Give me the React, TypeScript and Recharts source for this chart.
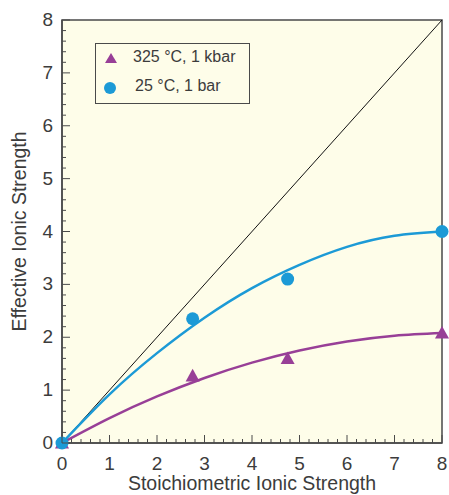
import React from 'react'
import {
  ComposedChart, Line, Scatter, XAxis, YAxis, CartesianGrid,
  ReferenceLine, ReferenceArea,
} from 'recharts'

// fitted curves, read at whole-number stoichiometric ionic strength
const curveX = [0, 1, 2, 3, 4, 5, 6, 7, 8]
const curve25 = [0, 0.92, 1.7, 2.37, 2.93, 3.37, 3.71, 3.92, 4.0]
const curve325 = [0, 0.47, 0.88, 1.23, 1.52, 1.75, 1.92, 2.03, 2.08]

// measured points
const pointsX = [0, 2.75, 4.75, 8]
const points25 = [0, 2.35, 3.1, 4.0]
const points325 = [0, 1.27, 1.6, 2.08]

const majorTicks = [0, 1, 2, 3, 4, 5, 6, 7, 8]
const minorPerUnit = 5

const BLUE = '#1c9ad6'
const PURPLE = '#983f97'
const FRAME = '#4a4a4a'
const TEXT = '#3c3c3c'
const FONT = '"Liberation Sans", Arial, sans-serif'

const curveData = curveX.map((x, i) => ({ x, c25: curve25[i], c325: curve325[i] }))
const data25 = pointsX.map((x, i) => ({ x, y: points25[i] }))
const data325 = pointsX.map((x, i) => ({ x, y: points325[i] }))

const allTicks: number[] = []
for (let i = 0; i <= majorTicks[majorTicks.length - 1] * minorPerUnit; i++) allTicks.push(i / minorPerUnit)

const isMajor = (v: number) => majorTicks.includes(v)

const XTick = (props: any) => {
  const { x, y, payload } = props
  const major = isMajor(payload.value)
  return (
    <g>
      <line x1={x} x2={x} y1={y} y2={y - (major ? 8 : 4)} stroke={FRAME} strokeWidth={1} />
      {major && (
        <text x={x} y={y + 27} textAnchor="middle" fontSize={19} fill={TEXT} fontFamily={FONT}>
          {payload.value}
        </text>
      )}
    </g>
  )
}

const YTick = (props: any) => {
  const { x, y, payload } = props
  const major = isMajor(payload.value)
  return (
    <g>
      <line x1={x} x2={x + (major ? 8 : 4)} y1={y} y2={y} stroke={FRAME} strokeWidth={1} />
      {major && (
        <text x={x - 9} y={y + 6} textAnchor="end" fontSize={19} fill={TEXT} fontFamily={FONT}>
          {payload.value}
        </text>
      )}
    </g>
  )
}

const Triangle = (props: any) => {
  const { cx, cy } = props
  const s = 7
  return <path d={`M${cx},${cy - s} L${cx + s},${cy + s * 0.8} L${cx - s},${cy + s * 0.8} Z`} fill={PURPLE} />
}

const Dot = (props: any) => {
  const { cx, cy } = props
  return <circle cx={cx} cy={cy} r={6.5} fill={BLUE} />
}

const LegendBox = () => (
  <div
    style={{
      position: 'absolute',
      left: 95,
      top: 43,
      border: `1.5px solid ${FRAME}`,
      width: 155,
      height: 61,
      boxSizing: 'border-box',
      fontFamily: FONT,
      fontSize: 16,
      color: TEXT,
      pointerEvents: 'none',
    }}
  >
    <svg width={20} height={14} style={{ position: 'absolute', left: 5, top: 7 }}>
      <path d="M10,2 L16,12 L4,12 Z" fill={PURPLE} />
    </svg>
    <span style={{ position: 'absolute', left: 37, top: 4 }}>325 °C, 1 kbar</span>
    <svg width={20} height={16} style={{ position: 'absolute', left: 6, top: 36 }}>
      <circle cx={8} cy={8} r={6} fill={BLUE} />
    </svg>
    <span style={{ position: 'absolute', left: 39, top: 33 }}>25 °C, 1 bar</span>
  </div>
)

export default function App() {
  return (
    <div style={{ position: 'absolute', left: 0, top: 0, width: 449, height: 495, background: '#fff', overflow: 'hidden' }}>
      <ComposedChart
        width={449}
        height={495}
        data={curveData}
        margin={{ top: 20, right: 7, left: 0, bottom: 0 }}
      >
        <CartesianGrid fill="#fefde9" horizontal={false} vertical={false} />
        <XAxis
          type="number"
          dataKey="x"
          domain={[0, 8]}
          ticks={allTicks}
          interval={0}
          tick={<XTick />}
          tickLine={false}
          tickSize={0}
          tickMargin={0}
          height={52}
          axisLine={{ stroke: FRAME, strokeWidth: 1.5 }}
          label={{
            value: 'Stoichiometric Ionic Strength',
            position: 'insideBottom',
            offset: 5,
            fill: TEXT,
            fontSize: 19.5,
            fontFamily: FONT,
          }}
        />
        <YAxis
          type="number"
          domain={[0, 8]}
          ticks={allTicks}
          interval={0}
          tick={<YTick />}
          tickLine={false}
          tickSize={0}
          tickMargin={0}
          width={62}
          axisLine={{ stroke: FRAME, strokeWidth: 1.5 }}
          label={{
            value: 'Effective Ionic Strength',
            angle: -90,
            position: 'insideLeft',
            offset: 19,
            fill: TEXT,
            fontSize: 19.5,
            fontFamily: FONT,
            style: { textAnchor: 'middle' },
          }}
        />
        <ReferenceArea x1={0} x2={8} y1={0} y2={8} fill="none" fillOpacity={0} stroke={FRAME} strokeWidth={1.5} />
        <ReferenceLine segment={[{ x: 0, y: 0 }, { x: 8, y: 8 }]} stroke="#111" strokeWidth={1} />
        <Line type="natural" dataKey="c325" stroke={PURPLE} strokeWidth={2.5} dot={false} isAnimationActive={false} />
        <Line type="natural" dataKey="c25" stroke={BLUE} strokeWidth={2.5} dot={false} isAnimationActive={false} />
        <Scatter data={data325} dataKey="y" shape={<Triangle />} isAnimationActive={false} />
        <Scatter data={data25} dataKey="y" shape={<Dot />} isAnimationActive={false} />
      </ComposedChart>
      <LegendBox />
    </div>
  )
}
